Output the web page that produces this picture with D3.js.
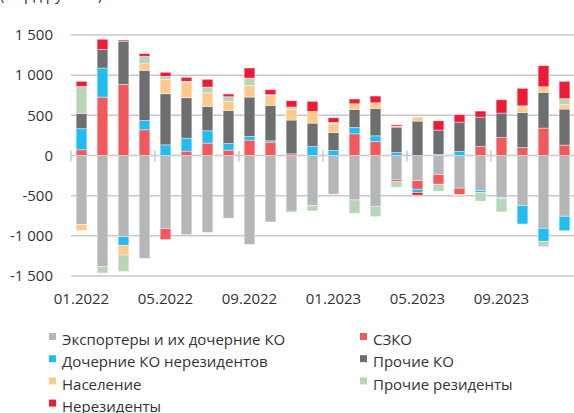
<!DOCTYPE html>
<meta charset="utf-8">
<style>
    body { margin: 0; background: #fff; }
    text { font-family: "Open Sans", sans-serif; fill: #333; }
    .grid line { stroke: #c8c8c8; stroke-width: 1.5px; }
</style>
<body>
<script src="https://d3js.org/d3.v7.min.js"></script>
<script>
    // months 01.2022 .. 12.2023
    var months = ["01.2022", "02.2022", "03.2022", "04.2022", "05.2022", "06.2022", "07.2022", "08.2022",
        "09.2022", "10.2022", "11.2022", "12.2022", "01.2023", "02.2023", "03.2023", "04.2023",
        "05.2023", "06.2023", "07.2023", "08.2023", "09.2023", "10.2023", "11.2023", "12.2023"];
    var tickMonths = ["01.2022", "05.2022", "09.2022", "01.2023", "05.2023", "09.2023"];
    var yTicks = [-1500, -1000, -500, 0, 500, 1000, 1500];

    // series values, bln rub
    var exporters = [-860, -1380, -1010, -1280, -910, -985, -956, -781, -1106, -827, -694, -624,
        -482, -553, -632, -299, -312, -237, -407, -436, -524, -624, -906, -757];
    var szko = [71, 727, 885, 320, -137, 54, 154, 67, 191, 166, 21, 0,
        0, 270, 175, -25, -108, -121, -79, 112, 224, 100, 341, 129];
    var subsidiaries = [263, 362, -108, 116, 133, 162, 154, 83, 46, 17, -10, 112,
        62, 79, 70, 37, -41, 12, 50, -25, -12, -228, -162, -179];
    var otherBanks = [190, 229, 537, 624, 636, 503, 303, 411, 490, 441, 420, 291,
        225, 225, 341, 316, 428, 304, 366, 366, 304, 436, 445, 449];
    var households = [-75, 0, -121, 83, 179, 187, 170, 112, 146, 120, 133, 146,
        108, 70, 71, 13, 50, 0, -17, 0, 0, 67, 70, 54];
    var otherResidents = [336, -83, -204, 92, 37, 17, 71, 59, 91, 13, 29, -66,
        17, -166, -129, -71, 0, -87, -17, -108, -166, 16, -67, 75];
    var nonResidents = [63, 129, 15, 33, 50, 50, 96, 33, 125, 62, 79, 125,
        58, 59, 83, 16, -33, 116, 91, 75, 166, 217, 262, 216];

    var seriesNames = ["Экспортеры и их дочерние КО", "СЗКО", "Дочерние КО нерезидентов", "Прочие КО",
        "Население", "Прочие резиденты", "Нерезиденты"];
    var seriesValues = [exporters, szko, subsidiaries, otherBanks, households, otherResidents, nonResidents];
    var colors = ["#b5b6b8", "#f05a5c", "#22bdee", "#6c6e6f", "#fdca8a", "#b7d6b8", "#ee1b36"];

    var width = 574, height = 413;

    var svg = d3.select("body").append("svg")
        .attr("width", width)
        .attr("height", height);

    // table for d3.stack
    var table = months.map(function (m, i) {
        var row = { month: m };
        seriesNames.forEach(function (s, j) { row[s] = seriesValues[j][i]; });
        return row;
    });

    var x = d3.scaleBand().domain(months).range([71, 575]).paddingInner(0.49).paddingOuter(0.245);
    var y = d3.scaleLinear().domain([-1500, 1500]).range([276, 35]);

    // unit caption, cut off at the top edge
    svg.append("text")
        .attr("x", 0)
        .attr("y", -0.5)
        .style("font-size", "15px")
        .text("(млрд рублей)");

    // grid
    svg.append("g").attr("class", "grid")
        .selectAll("line")
        .data(yTicks)
        .enter().append("line")
        .attr("x1", 71).attr("x2", width)
        .attr("y1", function (d) { return y(d); })
        .attr("y2", function (d) { return y(d); });

    // y labels
    svg.append("g")
        .selectAll("text")
        .data(yTicks)
        .enter().append("text")
        .attr("x", 53)
        .attr("y", function (d) { return y(d); })
        .attr("dy", "0.35em")
        .style("text-anchor", "end")
        .style("font-size", "15px")
        .text(function (d) { return d3.format(",")(d).replace(",", " ").replace("−", "-"); });

    var stack = d3.stack().keys(seriesNames).offset(d3.stackOffsetDiverging);
    var stacked = stack(table);

    svg.append("g")
        .selectAll("g")
        .data(stacked)
        .enter().append("g")
        .attr("fill", function (d, i) { return colors[i]; })
        .selectAll("rect")
        .data(function (d) { return d; })
        .enter().append("rect")
        .attr("x", function (d) { return x(d.data.month); })
        .attr("width", x.bandwidth())
        .attr("y", function (d) { return y(Math.max(d[0], d[1])); })
        .attr("height", function (d) { return Math.abs(y(d[0]) - y(d[1])); })
        .attr("stroke", "#fff")
        .attr("stroke-opacity", 0.5)
        .attr("stroke-width", 0.8);

    // x ticks at band boundaries
    svg.append("g")
        .selectAll("line")
        .data(tickMonths)
        .enter().append("line")
        .attr("x1", function (d) { return x(d) - (x.step() - x.bandwidth()) / 2; })
        .attr("x2", function (d) { return x(d) - (x.step() - x.bandwidth()) / 2; })
        .attr("y1", y(0) - 5)
        .attr("y2", y(0) + 6)
        .attr("stroke", "#c8c8c8")
        .attr("stroke-width", 1.5);

    // x labels
    svg.append("g")
        .selectAll("text")
        .data(tickMonths)
        .enter().append("text")
        .attr("x", function (d) { return x(d) + x.bandwidth() / 2; })
        .attr("y", 299)
        .attr("dy", "0.35em")
        .style("text-anchor", "middle")
        .style("font-size", "15px")
        .text(function (d) { return d; });

    // legend, two columns
    var legend = svg.append("g")
        .selectAll("g")
        .data(seriesNames)
        .enter().append("g")
        .attr("transform", function (d, i) {
            var col = i % 2, row = Math.floor(i / 2);
            return "translate(" + (col ? 360 : 49) + "," + (340 + row * 22.2) + ")";
        });

    legend.append("rect")
        .attr("y", -7)
        .attr("width", 7)
        .attr("height", 7)
        .attr("fill", function (d, i) { return colors[i]; });

    legend.append("text")
        .attr("x", 13)
        .attr("dy", "0.35em")
        .style("font-size", "15px")
        .text(function (d) { return d; });
</script>
</body>
